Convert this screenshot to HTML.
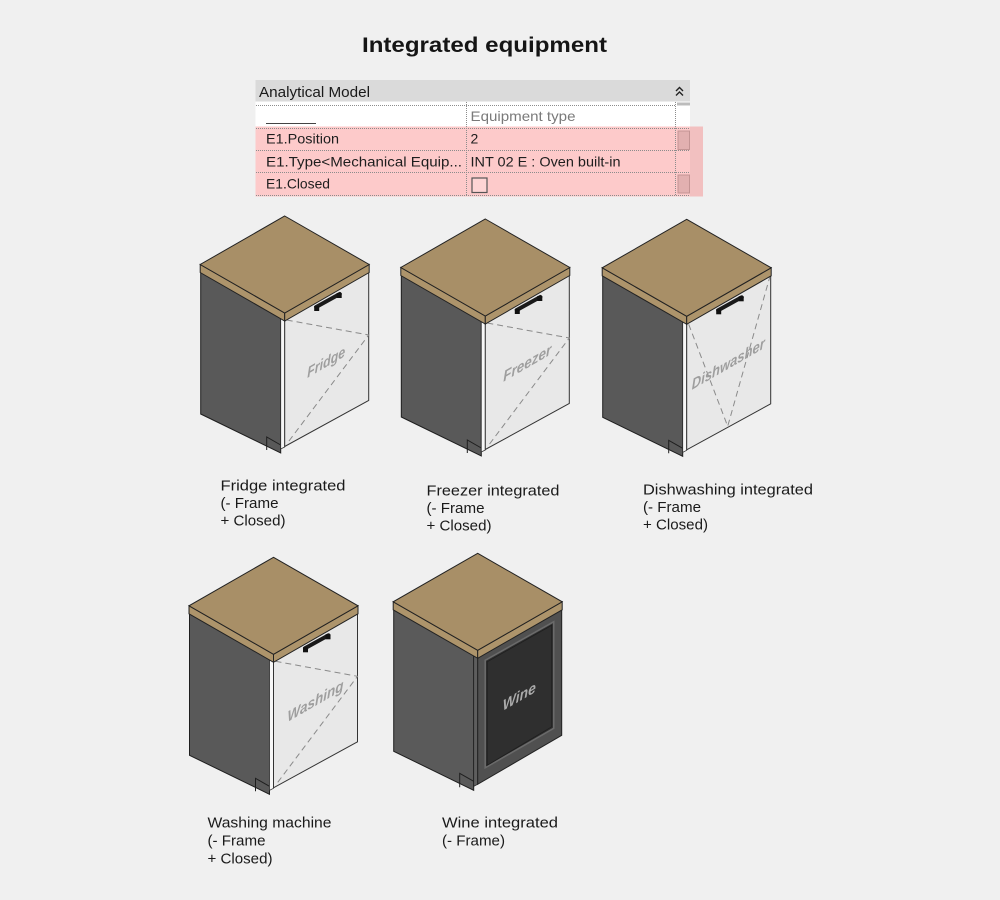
<!DOCTYPE html>
<html><head><meta charset="utf-8">
<style>
html,body{margin:0;padding:0;background:#f0f0f0;}
svg{display:block;}
text{font-family:"Liberation Sans","DejaVu Sans",sans-serif;}
</style></head>
<body>
<svg width="1000" height="900" viewBox="0 0 1000 900" xmlns="http://www.w3.org/2000/svg">
<rect width="1000" height="900" fill="#f0f0f0"/>

<!-- Title -->
<text x="362" y="52" font-size="21.5" font-weight="bold" fill="#151515" textLength="245" lengthAdjust="spacingAndGlyphs">Integrated equipment</text>

<!-- Table -->
<rect x="255.5" y="80" width="434.5" height="21.5" fill="#dadada"/>
<text x="259" y="97" font-size="14.5" fill="#1a1a1a" textLength="111" lengthAdjust="spacingAndGlyphs">Analytical Model</text>
<polyline points="676,91 679.5,87.5 683,91" fill="none" stroke="#222" stroke-width="1.4"/>
<polyline points="676,95.5 679.5,92 683,95.5" fill="none" stroke="#222" stroke-width="1.4"/>
<rect x="255.5" y="101.5" width="434.5" height="25" fill="#ffffff"/>
<rect x="677" y="102.5" width="13" height="3" fill="#bcbcbc"/>
<rect x="255.5" y="126.5" width="434.5" height="70" fill="#fdcaca"/>
<rect x="690" y="126.5" width="13" height="70" fill="#f2c0c0"/>
<line x1="266" y1="123.5" x2="316" y2="123.5" stroke="#444" stroke-width="1"/>
<text x="470.5" y="121" font-size="14" fill="#7a7a7a" textLength="105" lengthAdjust="spacingAndGlyphs">Equipment type</text>
<g stroke="#8c8c8c" stroke-width="1" stroke-dasharray="1,1" fill="none">
<line x1="256" y1="105.5" x2="676" y2="105.5"/>
<line x1="256" y1="128.5" x2="690" y2="128.5"/>
<line x1="256" y1="150.5" x2="690" y2="150.5"/>
<line x1="256" y1="172.5" x2="690" y2="172.5"/>
<line x1="256" y1="195.5" x2="690" y2="195.5"/>
<line x1="466.5" y1="102" x2="466.5" y2="196"/>
<line x1="675.5" y1="102" x2="675.5" y2="196"/>
</g>
<rect x="678" y="131" width="11.5" height="18.5" fill="#e2b0b0" stroke="#c49494" stroke-width="1"/>
<rect x="678" y="175" width="11.5" height="18" fill="#e2b0b0" stroke="#c49494" stroke-width="1"/>
<text x="266" y="143.5" font-size="14" fill="#1e1e1e" textLength="73" lengthAdjust="spacingAndGlyphs">E1.Position</text>
<text x="266" y="166.5" font-size="14" fill="#1e1e1e" textLength="196" lengthAdjust="spacingAndGlyphs">E1.Type&lt;Mechanical Equip...</text>
<text x="266" y="188.5" font-size="14" fill="#1e1e1e" textLength="64" lengthAdjust="spacingAndGlyphs">E1.Closed</text>
<text x="470.5" y="143.5" font-size="14" fill="#1e1e1e">2</text>
<text x="470.5" y="166.5" font-size="14" fill="#1e1e1e" textLength="150" lengthAdjust="spacingAndGlyphs">INT 02 E : Oven built-in</text>
<rect x="472" y="178" width="15" height="14.5" fill="#fdd4d4" stroke="#555" stroke-width="1.2"/>

<!-- Fridge -->
<g transform="translate(284.7,216)">
  <polygon points="-84,56 -4,102 -4,237 -84,198" fill="#595959" stroke="#1e1e1e" stroke-width="1"/>
  <polyline points="-18,234 -18,221 -4,229" fill="none" stroke="#1e1e1e" stroke-width="1"/>
  <polygon points="-4,102 0,104.5 0,231 -4,233" fill="#f7f7f7" stroke="#333" stroke-width="0.8"/>
  <polygon points="0,104.5 84,56 84,184.5 0,230.5" fill="#e8e8e8" stroke="#333" stroke-width="1"/>
  <polyline points="2,104 84,119 2,228" fill="none" stroke="#8a8a8a" stroke-width="1" stroke-dasharray="6,4"/>
  <text transform="matrix(1,-0.577,0,1,41.5,151)" text-anchor="middle" font-size="15" font-weight="bold" font-style="italic" fill="#9e9e9e" textLength="38" lengthAdjust="spacingAndGlyphs">Fridge</text>
  <line x1="31.5" y1="91" x2="55" y2="78" stroke="#1a1a1a" stroke-width="4" stroke-linecap="round"/>
  <rect x="29.5" y="90" width="5" height="5" fill="#111"/><rect x="52" y="77" width="5" height="5" fill="#111"/>
  <polygon points="-84.5,48.5 0,97 0,105 -84.5,56.5" fill="#ad946b" stroke="#222" stroke-width="1"/>
  <polygon points="0,97 84.5,48.5 84.5,56.5 0,105" fill="#ad946b" stroke="#222" stroke-width="1"/>
  <polygon points="0,0 84.5,48.5 0,97 -84.5,48.5" fill="#a88f67" stroke="#222" stroke-width="1"/>
</g>

<!-- Freezer -->
<g transform="translate(485.3,219)">
  <polygon points="-84,56 -4,102 -4,237 -84,198" fill="#595959" stroke="#1e1e1e" stroke-width="1"/>
  <polyline points="-18,234 -18,221 -4,229" fill="none" stroke="#1e1e1e" stroke-width="1"/>
  <polygon points="-4,102 0,104.5 0,231 -4,233" fill="#f7f7f7" stroke="#333" stroke-width="0.8"/>
  <polygon points="0,104.5 84,56 84,184.5 0,230.5" fill="#e8e8e8" stroke="#333" stroke-width="1"/>
  <polyline points="2,104 84,119 2,228" fill="none" stroke="#8a8a8a" stroke-width="1" stroke-dasharray="6,4"/>
  <text transform="matrix(1,-0.577,0,1,42,149)" text-anchor="middle" font-size="15" font-weight="bold" font-style="italic" fill="#9e9e9e" textLength="48" lengthAdjust="spacingAndGlyphs">Freezer</text>
  <line x1="31.5" y1="91" x2="55" y2="78" stroke="#1a1a1a" stroke-width="4" stroke-linecap="round"/>
  <rect x="29.5" y="90" width="5" height="5" fill="#111"/><rect x="52" y="77" width="5" height="5" fill="#111"/>
  <polygon points="-84.5,48.5 0,97 0,105 -84.5,56.5" fill="#ad946b" stroke="#222" stroke-width="1"/>
  <polygon points="0,97 84.5,48.5 84.5,56.5 0,105" fill="#ad946b" stroke="#222" stroke-width="1"/>
  <polygon points="0,0 84.5,48.5 0,97 -84.5,48.5" fill="#a88f67" stroke="#222" stroke-width="1"/>
</g>

<!-- Dishwasher -->
<g transform="translate(686.7,219.3)">
  <polygon points="-84,56 -4,102 -4,237 -84,198" fill="#595959" stroke="#1e1e1e" stroke-width="1"/>
  <polyline points="-18,234 -18,221 -4,229" fill="none" stroke="#1e1e1e" stroke-width="1"/>
  <polygon points="-4,102 0,104.5 0,231 -4,233" fill="#f7f7f7" stroke="#333" stroke-width="0.8"/>
  <polygon points="0,104.5 84,56 84,184.5 0,230.5" fill="#e8e8e8" stroke="#333" stroke-width="1"/>
  <polyline points="2,105 41,207 83,58" fill="none" stroke="#8a8a8a" stroke-width="1" stroke-dasharray="6,4"/>
  <text transform="matrix(1,-0.577,0,1,41.6,149.5)" text-anchor="middle" font-size="15" font-weight="bold" font-style="italic" fill="#9e9e9e" textLength="73" lengthAdjust="spacingAndGlyphs">Dishwasher</text>
  <line x1="31.5" y1="91" x2="55" y2="78" stroke="#1a1a1a" stroke-width="4" stroke-linecap="round"/>
  <rect x="29.5" y="90" width="5" height="5" fill="#111"/><rect x="52" y="77" width="5" height="5" fill="#111"/>
  <polygon points="-84.5,48.5 0,97 0,105 -84.5,56.5" fill="#ad946b" stroke="#222" stroke-width="1"/>
  <polygon points="0,97 84.5,48.5 84.5,56.5 0,105" fill="#ad946b" stroke="#222" stroke-width="1"/>
  <polygon points="0,0 84.5,48.5 0,97 -84.5,48.5" fill="#a88f67" stroke="#222" stroke-width="1"/>
</g>

<!-- Washing -->
<g transform="translate(273.5,557.3)">
  <polygon points="-84,56 -4,102 -4,237 -84,198" fill="#595959" stroke="#1e1e1e" stroke-width="1"/>
  <polyline points="-18,234 -18,221 -4,229" fill="none" stroke="#1e1e1e" stroke-width="1"/>
  <polygon points="-4,102 0,104.5 0,231 -4,233" fill="#f7f7f7" stroke="#333" stroke-width="0.8"/>
  <polygon points="0,104.5 84,56 84,184.5 0,230.5" fill="#e8e8e8" stroke="#333" stroke-width="1"/>
  <polyline points="2,104 84,119 2,228" fill="none" stroke="#8a8a8a" stroke-width="1" stroke-dasharray="6,4"/>
  <text transform="matrix(1,-0.577,0,1,42,148.5)" text-anchor="middle" font-size="15" font-weight="bold" font-style="italic" fill="#9e9e9e" textLength="56" lengthAdjust="spacingAndGlyphs">Washing</text>
  <line x1="31.5" y1="91" x2="55" y2="78" stroke="#1a1a1a" stroke-width="4" stroke-linecap="round"/>
  <rect x="29.5" y="90" width="5" height="5" fill="#111"/><rect x="52" y="77" width="5" height="5" fill="#111"/>
  <polygon points="-84.5,48.5 0,97 0,105 -84.5,56.5" fill="#ad946b" stroke="#222" stroke-width="1"/>
  <polygon points="0,97 84.5,48.5 84.5,56.5 0,105" fill="#ad946b" stroke="#222" stroke-width="1"/>
  <polygon points="0,0 84.5,48.5 0,97 -84.5,48.5" fill="#a88f67" stroke="#222" stroke-width="1"/>
</g>

<!-- Wine -->
<g transform="translate(477.7,553.3)">
  <polygon points="-84,56 -4,102 -4,237 -84,198" fill="#5a5a5a" stroke="#1e1e1e" stroke-width="1"/>
  <polyline points="-18,234 -18,220 -4,228" fill="none" stroke="#1e1e1e" stroke-width="1"/>
  <polygon points="-4,102 0,104.5 0,231 -4,233" fill="#5e5e5e" stroke="#222" stroke-width="0.8"/>
  <polygon points="0,104.5 84,56 84,182 0,231" fill="#505050" stroke="#222" stroke-width="1"/>
  <polygon points="7.5,107 76,68.5 76,175 7.5,214.5" fill="#2f2f2f" stroke="#6a6a6a" stroke-width="1.6"/>
  <polygon points="9.5,108.5 74,72 74,173.5 9.5,212" fill="none" stroke="#1e1e1e" stroke-width="0.8"/>
  <text transform="matrix(1,-0.577,0,1,41.6,148)" text-anchor="middle" font-size="15" font-weight="bold" font-style="italic" fill="#ababab" textLength="33" lengthAdjust="spacingAndGlyphs">Wine</text>
  <polygon points="-84.5,48.5 0,97 0,105 -84.5,56.5" fill="#ad946b" stroke="#222" stroke-width="1"/>
  <polygon points="0,97 84.5,48.5 84.5,56.5 0,105" fill="#ad946b" stroke="#222" stroke-width="1"/>
  <polygon points="0,0 84.5,48.5 0,97 -84.5,48.5" fill="#a88f67" stroke="#222" stroke-width="1"/>
</g>

<!-- Labels -->
<g font-size="15" fill="#1a1a1a">
  <text x="220.5" y="490.5" textLength="125" lengthAdjust="spacingAndGlyphs">Fridge integrated</text>
  <text x="220.5" y="508" textLength="58" lengthAdjust="spacingAndGlyphs">(- Frame</text>
  <text x="220.5" y="525.5" textLength="65" lengthAdjust="spacingAndGlyphs">+ Closed)</text>

  <text x="426.5" y="495.5" textLength="133" lengthAdjust="spacingAndGlyphs">Freezer integrated</text>
  <text x="426.5" y="513" textLength="58" lengthAdjust="spacingAndGlyphs">(- Frame</text>
  <text x="426.5" y="530.5" textLength="65" lengthAdjust="spacingAndGlyphs">+ Closed)</text>

  <text x="643" y="494.5" textLength="170" lengthAdjust="spacingAndGlyphs">Dishwashing integrated</text>
  <text x="643" y="512" textLength="58" lengthAdjust="spacingAndGlyphs">(- Frame</text>
  <text x="643" y="529.5" textLength="65" lengthAdjust="spacingAndGlyphs">+ Closed)</text>

  <text x="207.5" y="827.5" textLength="124" lengthAdjust="spacingAndGlyphs">Washing machine</text>
  <text x="207.5" y="845.5" textLength="58" lengthAdjust="spacingAndGlyphs">(- Frame</text>
  <text x="207.5" y="863.5" textLength="65" lengthAdjust="spacingAndGlyphs">+ Closed)</text>

  <text x="442" y="827.5" textLength="116" lengthAdjust="spacingAndGlyphs">Wine integrated</text>
  <text x="442" y="845.5" textLength="63" lengthAdjust="spacingAndGlyphs">(- Frame)</text>
</g>
</svg>
</body></html>
